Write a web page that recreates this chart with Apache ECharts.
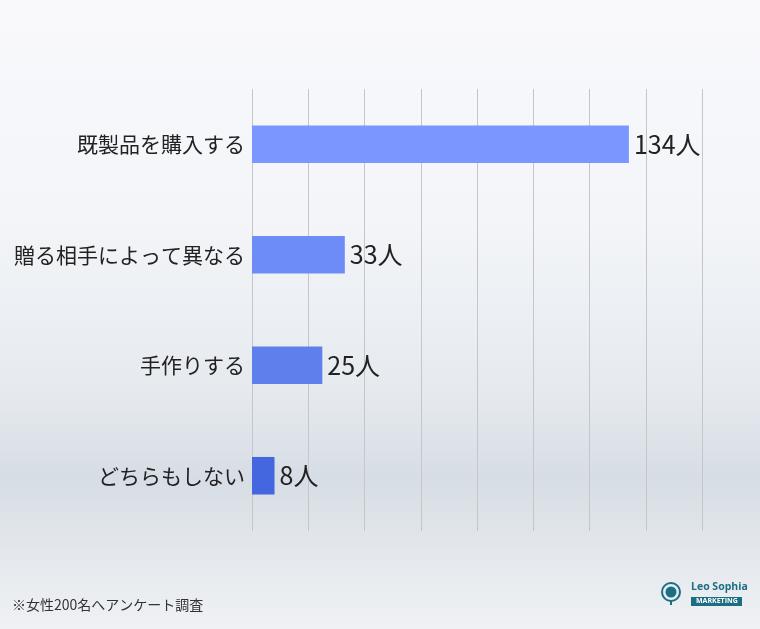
<!DOCTYPE html>
<html><head><meta charset="utf-8">
<script src="https://cdn.jsdelivr.net/npm/echarts@6/dist/echarts.min.js"></script>
<style>html,body{margin:0;padding:0;}#c{width:760px;height:629px;}</style>
</head><body><div id="c"></div>
<script>
const categories = ['既製品を購入する','贈る相手によって異なる','手作りする','どちらもしない'];
const values = [134, 33, 25, 8];
const barColors = ['#7B96FF','#6E8CF7','#5F7FEC','#4467E0'];
const footnote = '※女性200名へアンケート調査';

const chart = echarts.init(document.getElementById('c'));
const F = '"Noto Sans CJK JP","Noto Sans",sans-serif';
chart.setOption({
  backgroundColor: {type:'linear',x:0,y:0,x2:0,y2:1,colorStops:[
    {offset:0,color:'#F9F9FC'},{offset:0.35,color:'#F3F5F8'},{offset:0.62,color:'#E6EAEF'},
    {offset:0.76,color:'#D6DDE4'},{offset:0.88,color:'#E4E8EC'},{offset:1,color:'#EFF1F4'}]},
  animation:false,
  grid:{left:252,right:58,top:89,bottom:98,containLabel:false},
  xAxis:{type:'value',min:0,max:160,interval:20,
    axisLabel:{show:false},axisLine:{show:false},axisTick:{show:false},
    splitLine:{show:true,lineStyle:{color:'#C4C6CA',width:1}}},
  yAxis:{type:'category',data:categories,inverse:true,
    axisLine:{show:false},axisTick:{show:false},
    axisLabel:{color:'#222',fontSize:21,fontFamily:F,margin:7}},
  series:[{type:'bar',barWidth:'34%',
    data:values.map((v,i)=>({value:v,itemStyle:{color:barColors[i]}})),
    label:{show:true,position:'right',distance:5,color:'#222',fontSize:25,fontFamily:F,formatter:p=>p.value+'人'}}],
  graphic:[
    {type:'text',left:12,top:598,style:{text:footnote,fill:'#333',font:'14px '+F}},
    {type:'circle',shape:{cx:671,cy:592,r:9},style:{fill:'none',stroke:'#1B6E84',lineWidth:2}},
    {type:'circle',shape:{cx:671,cy:592,r:5.5},style:{fill:'#1B6E84'}},
    {type:'rect',shape:{x:670,y:601,width:2,height:4},style:{fill:'#1B6E84'}},
    {type:'text',left:691,top:582,style:{text:'Leo Sophia',fill:'#1B6E84',font:'bold 10.5px "Open Sans",sans-serif'}},
    {type:'rect',shape:{x:691,y:597,width:51,height:9},style:{fill:'#1B6E84'}},
    {type:'text',left:696,top:597.5,style:{text:'MARKETING',fill:'#fff',font:'bold 7px "Open Sans",sans-serif'}}
  ]
});
</script></body></html>
